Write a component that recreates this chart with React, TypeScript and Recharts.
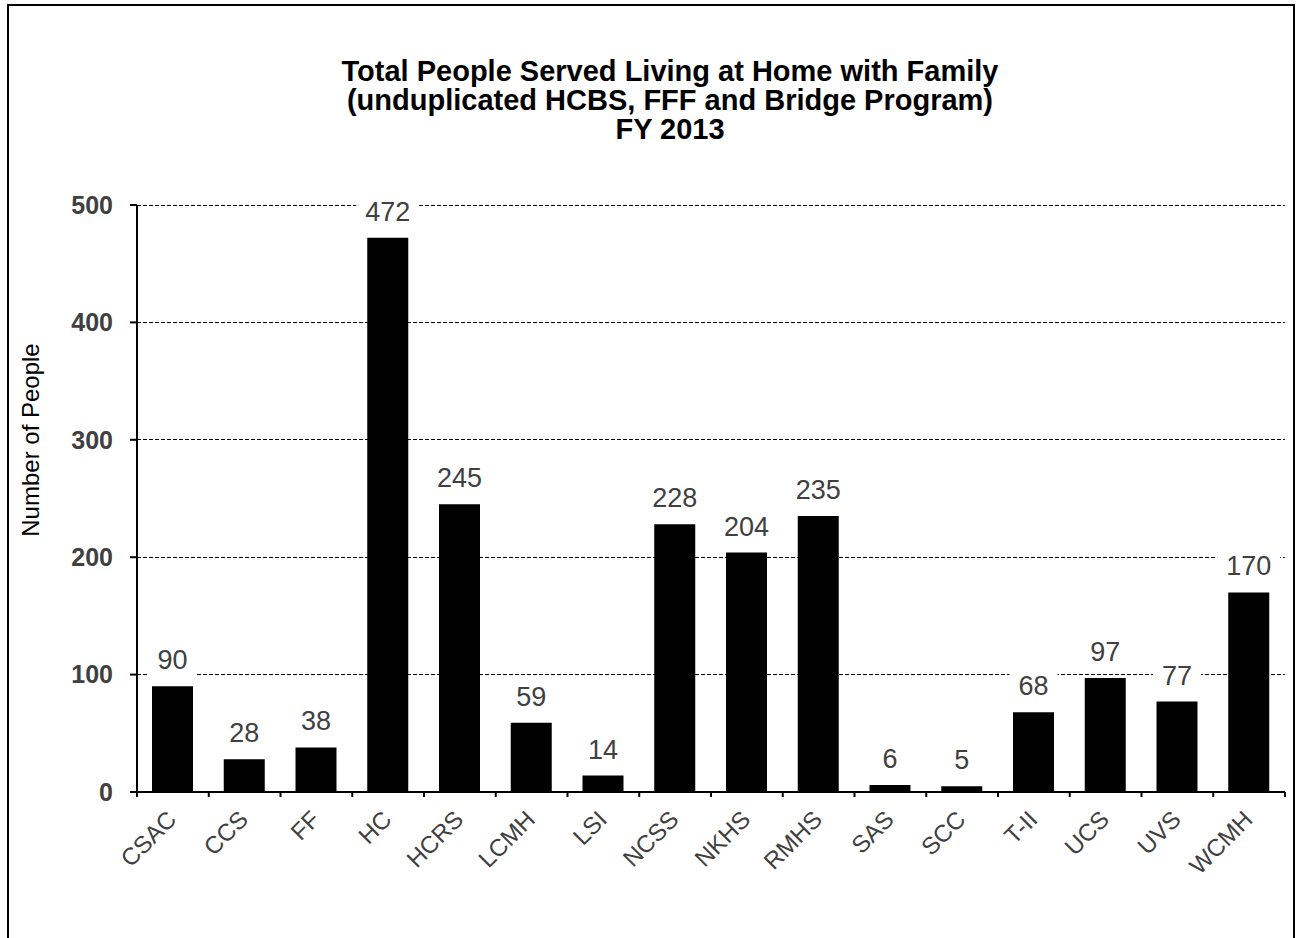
import React from "react";
import {
  BarChart,
  Bar,
  XAxis,
  YAxis,
  CartesianGrid,
  LabelList,
} from "recharts";

const categories: string[] = [
  "CSAC", "CCS", "FF", "HC", "HCRS", "LCMH", "LSI", "NCSS",
  "NKHS", "RMHS", "SAS", "SCC", "T-II", "UCS", "UVS", "WCMH",
];
const peopleServed: number[] = [
  90, 28, 38, 472, 245, 59, 14, 228, 204, 235, 6, 5, 68, 97, 77, 170,
];
const yTicks: number[] = [0, 100, 200, 300, 400, 500];

const titleLines: string[] = [
  "Total People Served Living at Home with Family",
  "(unduplicated HCBS, FFF and Bridge Program)",
  "FY 2013",
];

const data = categories.map((name, i) => ({ name, value: peopleServed[i] }));

const FONT = "'Liberation Sans', Arial, Helvetica, sans-serif";
const CHART_W = 1284;
const CHART_H = 930;
const Y_AXIS_W = 60;
const MARGIN = { top: 199, right: 9, bottom: 44, left: 67 };
const PLOT_W = CHART_W - MARGIN.left - MARGIN.right - Y_AXIS_W;
const HALF_BAND = PLOT_W / categories.length / 2;

const XTick = (props: any) => {
  const { x, y, payload, index } = props;
  const last = index === categories.length - 1;
  return (
    <g>
      <line x1={x - HALF_BAND} x2={x - HALF_BAND} y1={y} y2={y + 5} stroke="#000" strokeWidth={2} />
      {last && (
        <line x1={x + HALF_BAND} x2={x + HALF_BAND} y1={y} y2={y + 5} stroke="#000" strokeWidth={2} />
      )}
      <text
        x={x + 5}
        y={y + 29}
        textAnchor="end"
        fill="#404040"
        fontSize={24}
        fontFamily={FONT}
        transform={`rotate(-45, ${x + 5}, ${y + 29})`}
      >
        {payload.value}
      </text>
    </g>
  );
};

const ValueLabel = (props: any) => {
  const { x, y, width, value } = props;
  const cx = x + width / 2;
  const base = y - 17;
  const w = String(value).length * 15 + 18;
  return (
    <g>
      <rect x={cx - w / 2} y={base - 30} width={w} height={40} fill="#fff" />
      <text x={cx} y={base} textAnchor="middle" fill="#404040" fontSize={27} fontFamily={FONT}>
        {value}
      </text>
    </g>
  );
};

export default function App() {
  return (
    <div
      style={{
        position: "fixed",
        left: 7,
        top: 4,
        width: 1288,
        height: 960,
        border: "2px solid #000",
        boxSizing: "border-box",
        fontFamily: FONT,
        background: "#fff",
      }}
    >
      <div
        style={{
          position: "absolute",
          left: 161,
          top: 51,
          width: 1000,
          textAlign: "center",
          fontWeight: "bold",
          fontSize: 29,
          lineHeight: "29px",
          color: "#000",
        }}
      >
        {titleLines.map((t) => (
          <div key={t}>{t}</div>
        ))}
      </div>
      <div
        style={{
          position: "absolute",
          left: 22,
          top: 434,
          transform: "translate(-50%, -50%) rotate(-90deg)",
          whiteSpace: "nowrap",
          fontSize: 24,
          color: "#000",
        }}
      >
        Number of People
      </div>
      <div style={{ position: "absolute", left: 1, top: 0 }}>
        <BarChart width={CHART_W} height={CHART_H} data={data} margin={MARGIN}>
          <CartesianGrid
            vertical={false}
            stroke="#000"
            strokeDasharray="4 2"
            shapeRendering="crispEdges"
          />
          <XAxis
            dataKey="name"
            interval={0}
            tickSize={0}
            tickMargin={0}
            height={100}
            axisLine={{ stroke: "#000", strokeWidth: 2 }}
            tick={<XTick />}
          />
          <YAxis
            width={Y_AXIS_W}
            domain={[0, 500]}
            ticks={yTicks}
            tickSize={7}
            tickMargin={17}
            axisLine={{ stroke: "#000", strokeWidth: 2 }}
            tickLine={{ stroke: "#000", strokeWidth: 2 }}
            tick={{ fill: "#404040", fontSize: 25, fontWeight: "bold", fontFamily: FONT }}
          />
          <Bar dataKey="value" fill="#000" barSize={41} isAnimationActive={false}>
            <LabelList dataKey="value" content={<ValueLabel />} />
          </Bar>
        </BarChart>
      </div>
    </div>
  );
}
